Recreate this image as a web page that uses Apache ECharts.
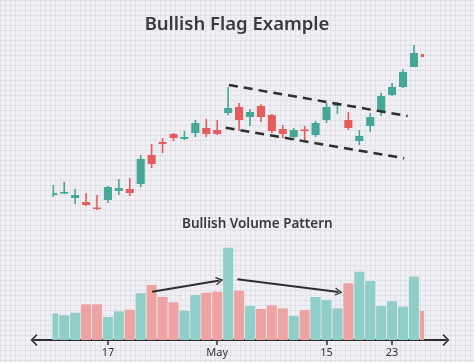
<!DOCTYPE html>
<html>
<head>
<meta charset="utf-8">
<script src="https://cdn.jsdelivr.net/npm/echarts@6/dist/echarts.min.js"></script>
<style>
html,body{margin:0;padding:0;}
body{
  width:474px;height:362px;overflow:hidden;
  background-color:#f0eff3;
  background-image:
    linear-gradient(to right, rgba(200,198,214,0.28) 1px, transparent 1px),
    linear-gradient(to bottom, rgba(200,198,214,0.28) 1px, transparent 1px);
  background-size:5px 5px;
}
#chart{width:474px;height:362px;}
</style>
</head>
<body>
<div id="chart"></div>
<script>
// ---- data ----
const dates = ['Apr 10','Apr 11','Apr 12','Apr 13','Apr 14','Apr 17','Apr 18','Apr 19','Apr 20','Apr 21',
  'Apr 24','Apr 25','Apr 26','Apr 27','Apr 28','May 1','May 2','May 3','May 4','May 5',
  'May 8','May 9','May 10','May 11','May 12','May 15','May 16','May 17','May 18','May 19',
  'May 22','May 23','May 24','May 25','May 26'];
const tickLabels = {'Apr 17':'17','May 1':'May','May 15':'15','May 23':'23'};
const opens  = [105,107,102,98,92.5,100,109,111,116,145,158,166,161,167,172,170,187,193,183,194,185,171,163,170.5,165,180,194,180,159,174,188,205,213,233,246];
const closes = [107,108,105,95,91,113,112,107,141,136,156,162,163,177,166,166,192,180,188,183,169,166,170,169.5,177,193,197,172,164,183,204,213,228,247,243];
const lows   = [103,106,96,94,90,97,105,104,113,132,147,159,160,163,163,165,185,169,174,178,167,162,160,158,163,177,186,170,155,168,184,204,212,233,242];
const highs  = [115,118,111,107,105,114,121,122,145,156,162,167,169,180,181,180,213,197,191,196,186,175,172,174,179,197,198,188,170,187,207,217,231,255,247];
const volumes = [26.7,24.7,27.3,35.7,35.7,23,28.7,30.3,46.7,55,43,37.7,29.3,45,47.3,48.3,92.3,49.3,34,31,34.7,31.7,24,30,43,40,31.7,56.7,68.3,59,34,38.7,33.3,63.3,29];
// flag channel lines [index, price]
const upperFlag = [[16.07,215],[32.42,184]];
const lowerFlag = [[15.77,172.3],[32.1,141.7]];
// volume annotation arrows [index, volume]
const volArrow1 = [[9.05,48.3],[15.2,59.5]];
const volArrow2 = [[16.84,60.7],[26.1,48]];

const TEAL='#45a796', RED='#e65b5b', VTEAL='#8fcfc8', VPINK='#eea3a3', INK='#2e2e2e';
const chevron='path://M6 0 L12 6 L10.8 7 L6 2.2 L1.2 7 L0 6 Z';
const clip = echarts.graphic.clipRectByRect;

const chart = echarts.init(document.getElementById('chart'), null, {renderer:'canvas'});
const candleData = opens.map((o,i)=>[i, o, closes[i], lows[i], highs[i]]);
const volData = volumes.map((v,i)=>[i, v, closes[i]>=opens[i]?1:0]);

function renderCandle(params, api){
  const i=api.value(0), o=api.value(1), c=api.value(2), l=api.value(3), h=api.value(4);
  const color = c>=o ? TEAL : RED;
  const unit = api.size([1,0])[0];
  const w = unit*0.74;
  const pO=api.coord([i,o]), pC=api.coord([i,c]), pL=api.coord([i,l]), pH=api.coord([i,h]);
  const top=Math.min(pO[1],pC[1]);
  let hgt=Math.abs(pO[1]-pC[1]); if(hgt<1.6) hgt=1.6;
  const cs=params.coordSys;
  const area={x:cs.x,y:cs.y,width:cs.width,height:cs.height};
  const children=[];
  const wick=clip({x:pH[0]-0.8,y:pH[1],width:1.6,height:pL[1]-pH[1]},area);
  if(wick) children.push({type:'rect',shape:wick,style:{fill:color}});
  const body=clip({x:pO[0]-w/2,y:top,width:w,height:hgt},area);
  if(body) children.push({type:'rect',shape:body,style:{fill:color}});
  return {type:'group',children};
}
function renderVol(params, api){
  const i=api.value(0), v=api.value(1), up=api.value(2);
  const unit = api.size([1,0])[0];
  const w = unit*0.92;
  const p=api.coord([i,v]), p0=api.coord([i,0]);
  const cs=params.coordSys;
  const r=clip({x:p[0]-w/2,y:p[1],width:w,height:p0[1]-p[1]},{x:cs.x,y:cs.y,width:cs.width,height:cs.height});
  if(!r) return null;
  return {type:'rect',shape:r,style:{fill: up?VTEAL:VPINK}};
}

chart.setOption({
  animation:false,
  textStyle:{fontFamily:'Noto Sans'},
  title:[
    {text:'Bullish Flag Example', left:'center', top:10,
     textStyle:{fontFamily:'Noto Sans', fontSize:18.5, fontWeight:600, color:'#3a3a3e'}},
    {text:'Bullish Volume Pattern', left:177, top:212,
     textStyle:{fontFamily:'Noto Sans', fontSize:13.5, fontWeight:600, color:'#3a3a3e'}}
  ],
  grid:[
    {left:52.5, width:371.5, top:40, height:170},
    {left:52.5, width:371.5, top:240, height:100},
    {left:34, right:28, top:240, height:100},
    {left:53.3, width:371.6, top:240, height:100}
  ],
  xAxis:[
    {type:'value', gridIndex:0, min:-0.07, max:33.92, show:false},
    {type:'value', gridIndex:1, min:-0.07, max:33.92, show:false},
    {type:'value', gridIndex:2, min:0, max:1, splitLine:{show:false},
     axisLine:{show:true, symbol:[chevron,chevron], symbolSize:[12,7], lineStyle:{color:INK, width:2}},
     axisTick:{show:false}, axisLabel:{show:false}},
    {type:'category', gridIndex:3, data:dates, boundaryGap:false,
     axisLine:{show:false},
     axisTick:{show:true, length:5, lineStyle:{color:INK, width:1.5}, interval:(i,v)=>tickLabels[v]!==undefined},
     axisLabel:{interval:(i,v)=>tickLabels[v]!==undefined, formatter:v=>tickLabels[v]||'',
       color:'#333', fontSize:11, fontFamily:'Noto Sans', margin:7}}
  ],
  yAxis:[
    {type:'value', gridIndex:0, min:90, max:260, show:false},
    {type:'value', gridIndex:1, min:0, max:100, show:false},
    {type:'value', gridIndex:2, min:0, max:1, show:false},
    {type:'value', gridIndex:3, min:0, max:100, show:false}
  ],
  series:[
    {type:'custom', xAxisIndex:0, yAxisIndex:0, data:candleData, renderItem:renderCandle,
     encode:{x:0, y:[1,2,3,4]}},
    {type:'custom', xAxisIndex:1, yAxisIndex:1, data:volData, renderItem:renderVol,
     encode:{x:0, y:1}},
    {type:'line', xAxisIndex:0, yAxisIndex:0, data:upperFlag, symbol:'none',
     lineStyle:{color:INK, width:2.5, type:[9,6]}},
    {type:'line', xAxisIndex:0, yAxisIndex:0, data:lowerFlag, symbol:'none',
     lineStyle:{color:INK, width:2.5, type:[9,6]}},
    {type:'lines', coordinateSystem:'cartesian2d', xAxisIndex:1, yAxisIndex:1,
     symbol:['none', chevron], symbolSize:[12,8],
     lineStyle:{color:INK, width:2, opacity:1},
     data:[{coords:volArrow1},{coords:volArrow2}]}
  ]
});
</script>
</body>
</html>
